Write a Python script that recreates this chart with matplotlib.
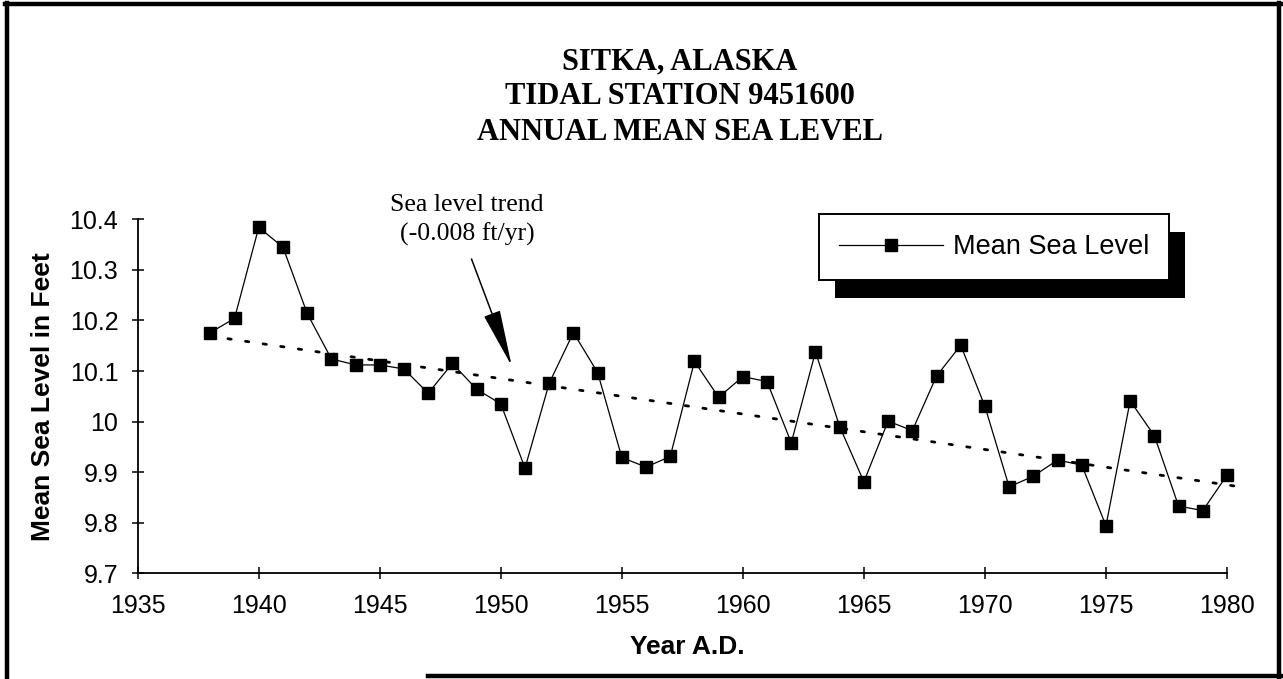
import matplotlib
matplotlib.use("Agg")
import matplotlib.pyplot as plt
from matplotlib.lines import Line2D
from matplotlib.patches import Rectangle

# ---- data ----
years = list(range(1938, 1981))
sea_level = [10.176, 10.204, 10.384, 10.345, 10.214, 10.124, 10.112, 10.112,
             10.104, 10.056, 10.115, 10.064, 10.035, 9.908, 10.076, 10.176,
             10.097, 9.929, 9.910, 9.931, 10.119, 10.048, 10.089, 10.079,
             9.958, 10.138, 9.990, 9.881, 10.001, 9.982, 10.090, 10.151,
             10.030, 9.871, 9.892, 9.924, 9.914, 9.794, 10.041, 9.972,
             9.833, 9.824, 9.894]
trend_years = [1938, 1980.4]
trend_values = [10.169, 9.872]
x_ticks = [1935, 1940, 1945, 1950, 1955, 1960, 1965, 1970, 1975, 1980]
y_ticks = [9.7, 9.8, 9.9, 10.0, 10.1, 10.2, 10.3, 10.4]
y_tick_labels = ['9.7', '9.8', '9.9', '10', '10.1', '10.2', '10.3', '10.4']
title_lines = ["SITKA, ALASKA", "TIDAL STATION 9451600", "ANNUAL MEAN SEA LEVEL"]
series_label = "Mean Sea Level"
annot_text = "Sea level trend\n(-0.008 ft/yr)"
arrow_tip = (1950.45, 10.11)

W, H = 1283, 679
fig = plt.figure(figsize=(W / 100, H / 100), dpi=100)
fig.patch.set_facecolor('white')

def fx(px):
    return px / W

def fy(py):
    return 1 - py / H

x0, x1, y_top, y_bot = 137.7, 1227.0, 219.3, 573.3
ax = fig.add_axes([fx(x0), fy(y_bot), fx(x1) - fx(x0), fy(y_top) - fy(y_bot)])
ax.set_facecolor('none')

line, = ax.plot(years, sea_level, color='black', lw=0.9, marker='s', markersize=8.5,
                markerfacecolor='black', markeredgecolor='black', zorder=3,
                label=series_label, clip_on=False)
ax.plot(trend_years, trend_values, color='black', lw=2.0,
        linestyle=(0, (1.2, 5.2)), dash_capstyle='round', clip_on=False, zorder=2)

ax.set_xlim(1935, 1980)
ax.set_ylim(9.7, 10.4)
ax.set_xticks(x_ticks)
ax.set_xticklabels([str(t) for t in x_ticks])
ax.set_yticks(y_ticks)
ax.set_yticklabels(y_tick_labels)
for s in ['top', 'right']:
    ax.spines[s].set_visible(False)
for s in ['left', 'bottom']:
    ax.spines[s].set_linewidth(1.3)
ax.tick_params(direction='inout', length=8, width=1.1, labelsize=18,
               labelfontfamily='Liberation Sans')
ax.tick_params(axis='x', pad=11)
ax.tick_params(axis='y', pad=10)

ax.set_xlabel("Year A.D.", fontsize=19, fontweight='bold', family='Liberation Sans')
ax.xaxis.set_label_coords(((687 - x0) / (x1 - x0)), -(647 - y_bot) / (y_bot - y_top))
ax.xaxis.label.set_va('center')
ax.set_ylabel("Mean Sea Level in Feet", fontsize=19, fontweight='bold', family='Liberation Sans')
ax.yaxis.set_label_coords(-(x0 - 43) / (x1 - x0), (y_bot - 397) / (y_bot - y_top))
ax.yaxis.label.set_va('center')
ax.yaxis.label.set_ha('center')

# title
for txt, cy in zip(title_lines, [62, 97, 132]):
    fig.text(fx(680), fy(cy), txt, ha='center', va='center', fontsize=22,
             fontweight='bold', family='Liberation Serif')

# annotation text and arrow
fig.text(fx(467), fy(220), annot_text, ha='center', va='center', fontsize=18.5,
         family='Liberation Serif', linespacing=1.4)
ax.annotate('', xy=arrow_tip, xycoords='data',
            xytext=(fx(471.5), fy(259)), textcoords='figure fraction',
            arrowprops=dict(arrowstyle='-|>,head_length=1.8,head_width=0.27',
                            mutation_scale=20, color='black', lw=1.1,
                            shrinkA=0, shrinkB=0))

# legend (figure level so the shadow can sit beneath it)
leg = fig.legend(handles=[line], loc='upper left',
                 bbox_to_anchor=(fx(819), fy(214)), bbox_transform=fig.transFigure,
                 handlelength=3.84, handletextpad=0.37, borderpad=0.74,
                 borderaxespad=0, fancybox=False, framealpha=1, edgecolor='black',
                 prop={'family': 'Liberation Sans', 'size': 19.5})
leg.get_frame().set_linewidth(1.4)
leg.set_zorder(6)

fig.canvas.draw()
bb = leg.get_window_extent()
shadow = Rectangle((bb.x0 + 16, bb.y0 - 18), bb.width, bb.height, transform=None,
                   facecolor='black', edgecolor='none', zorder=5)
fig.add_artist(shadow)

# outer border
border_kw = dict(color='black', lw=3.2, transform=fig.transFigure)
fig.add_artist(Line2D([fx(7), fx(7)], [fy(3), fy(679)], **border_kw))
fig.add_artist(Line2D([fx(5), fx(1281)], [fy(4), fy(4)], **border_kw))
fig.add_artist(Line2D([fx(1279), fx(1279)], [fy(3), fy(677)], **border_kw))
fig.add_artist(Line2D([fx(428), fx(1281)], [fy(676), fy(676)], **border_kw))

fig.savefig("out.png", dpi=100)
